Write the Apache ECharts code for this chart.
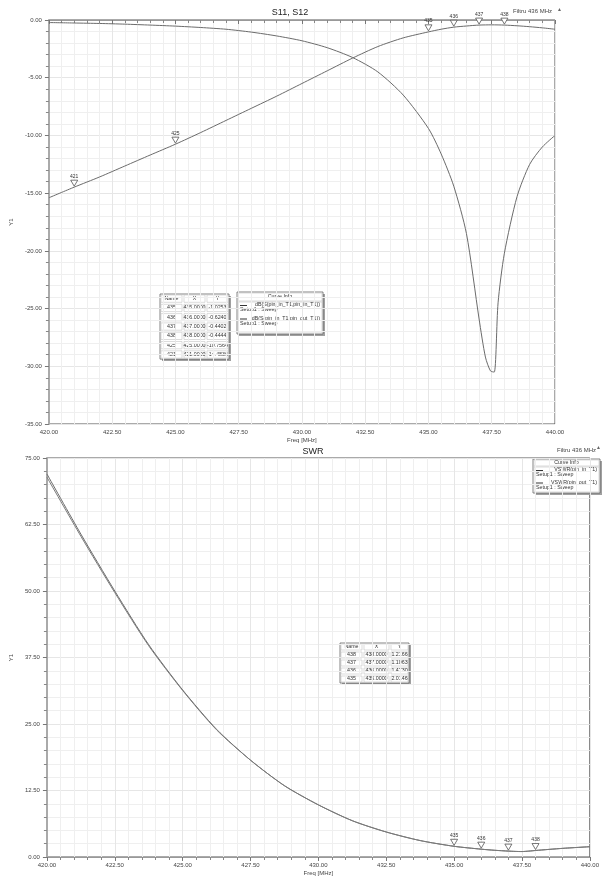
<!DOCTYPE html>
<html><head><meta charset="utf-8">
<script src="https://cdn.jsdelivr.net/npm/echarts@6/dist/echarts.min.js"></script>
<style>html,body{margin:0;padding:0;background:#fff}#c{width:602px;height:878px}</style>
</head><body><div id="c"></div>
<script>
// ---- data ----
const s11Freq = [420,421,422,423,424,425,426,427,428,429,430,431,432,433,434,435,435.5,436,436.5,437,437.25,437.45,437.6,437.75,438,438.5,439,439.5,440];
const s11Db   = [-0.22,-0.26,-0.3,-0.36,-0.44,-0.53,-0.65,-0.8,-1.05,-1.38,-1.8,-2.4,-3.25,-4.5,-6.5,-9.4,-11.6,-14.4,-18.5,-25.9,-29.2,-30.4,-30.5,-24.5,-20.2,-15.3,-12.5,-11.0,-10.0];
const s12Freq = [420,421,422,423,424,425,426,427,428,429,430,431,432,433,434,435,435.5,436,436.5,437,437.5,438,438.5,439,439.5,440];
const s12Db   = [-15.4,-14.48,-13.6,-12.65,-11.7,-10.76,-9.75,-8.7,-7.65,-6.6,-5.5,-4.4,-3.3,-2.3,-1.55,-1.03,-0.8,-0.62,-0.52,-0.44,-0.42,-0.44,-0.5,-0.58,-0.68,-0.8];
const swrFreq = [420,421.25,422.5,423.75,425,426.25,427.5,428.75,430,431.25,432.5,433.75,435,436,436.5,437,437.25,437.5,437.75,438,439,440];
const swrIn   = [72,60.7,50,39.9,31.4,24,18.2,13.4,9.8,6.82,4.7,3.09,2.01,1.47,1.26,1.11,1.05,1.02,1.1,1.22,1.62,1.93];
const swrOut  = [71.4,60.3,49.7,39.7,31.3,23.9,18.2,13.4,9.8,6.82,4.7,3.09,2.01,1.47,1.26,1.11,1.05,1.03,1.11,1.23,1.63,1.94];
const s12MarkNames = ['435','436','437','438','425','421'];
const s12MarkX = [435,436,437,438,425,421];
const s12MarkY = [-1.0253,-0.6240,-0.4402,-0.4444,-10.7564,-14.4836];
const swrMarkNames = ['438','437','436','435'];
const swrMarkX = [438,437,436,435];
const swrMarkY = [1.2166,1.1063,1.4730,2.0146];
const topCurves = ['dB(S(pin_in_T1,pin_in_T1))','dB(S(pin_in_T1,pin_out_T1))'];
const botCurves = ['VSWR(pin_in_T1)','VSWR(pin_out_T1)'];
const xTicks = [420,440,2.5];
const topY = [-35,0,5];
const botY = [0,75,12.5];

// ---- chart ----
const pairs = (a,b)=>a.map((v,i)=>[v,b[i]]);
const lineCol = '#6b6b6b';
const FONT = 'Liberation Sans, Arial, sans-serif';

function xAx(gi){
  return {gridIndex:gi,type:'value',min:xTicks[0],max:xTicks[1],interval:xTicks[2],
    name:'Freq [MHz]',nameLocation:'middle',nameGap:13,
    nameTextStyle:{fontSize:6,color:'#444',fontFamily:FONT},
    axisLine:{show:true,lineStyle:{color:'#999',width:1}},
    axisTick:{show:true,length:4,lineStyle:{color:'#777'}},
    minorTick:{show:true,splitNumber:5,length:3,lineStyle:{color:'#888'}},
    axisLabel:{fontSize:6,color:'#444',fontFamily:FONT,margin:5,formatter:v=>v.toFixed(2)},
    splitLine:{show:true,lineStyle:{color:'#e6e6e6',width:1}},
    minorSplitLine:{show:true,lineStyle:{color:'#efefef',width:1}}};
}
function yAx(gi,r){
  return {gridIndex:gi,type:'value',min:r[0],max:r[1],interval:r[2],
    name:'Y1',nameLocation:'middle',nameGap:31,nameRotate:90,
    nameTextStyle:{fontSize:6,color:'#444',fontFamily:FONT},
    axisLine:{show:true,lineStyle:{color:'#aaa',width:2}},
    axisTick:{show:true,length:4,lineStyle:{color:'#777'}},
    minorTick:{show:true,splitNumber:5,length:3,lineStyle:{color:'#888'}},
    axisLabel:{fontSize:6,color:'#444',fontFamily:FONT,margin:7,formatter:v=>v.toFixed(2)},
    splitLine:{show:true,lineStyle:{color:'#e6e6e6',width:1}},
    minorSplitLine:{show:true,lineStyle:{color:'#efefef',width:1}}};
}
function marks(names,xs,ys){
  return {symbol:'triangle',symbolRotate:180,symbolSize:[7,6],symbolOffset:[0,-4],
    itemStyle:{color:'#fff',borderColor:'#555',borderWidth:0.8},
    label:{show:true,position:'top',distance:1,fontSize:5,color:'#333',fontFamily:FONT,formatter:p=>p.name},
    data:names.map((n,i)=>({name:n,coord:[xs[i],ys[i]]}))};
}

// tables (graphic)
function table(x,y,colW,rowH,rows){
  const els=[];
  const W=colW.reduce((a,b)=>a+b,0), H=rowH*rows.length;
  els.push({type:'rect',shape:{x:x+2,y:y+2,width:W,height:H},style:{fill:'#a0a0a0'},silent:true});
  els.push({type:'rect',shape:{x:x,y:y,width:W,height:H},style:{fill:'#fff',stroke:'#666',lineWidth:0.8},silent:true});
  rows.forEach((r,ri)=>{
    let cx=x;
    r.forEach((t,ci)=>{
      els.push({type:'rect',shape:{x:cx+1,y:y+ri*rowH+1,width:colW[ci]-2,height:rowH-2},style:{fill:'none',stroke:'#c4c4c4',lineWidth:0.6},silent:true});
      els.push({type:'text',x:cx+colW[ci]/2,y:y+ri*rowH+rowH/2,style:{text:t,fontSize:5.3,fill:'#333',fontFamily:FONT,align:'center',verticalAlign:'middle'},silent:true});
      cx+=colW[ci];
    });
  });
  return els;
}
function curveInfo(x,y,w,h,hdr,step,names){
  const els=[];
  els.push({type:'rect',shape:{x:x+2,y:y+2,width:w,height:h},style:{fill:'#a0a0a0'},silent:true});
  els.push({type:'rect',shape:{x:x,y:y,width:w,height:h},style:{fill:'#fff',stroke:'#666',lineWidth:0.8},silent:true});
  els.push({type:'rect',shape:{x:x+1,y:y+1,width:w-2,height:hdr-1},style:{fill:'none',stroke:'#c4c4c4',lineWidth:0.6},silent:true});
  els.push({type:'text',x:x+w/2,y:y+hdr/2+0.5,style:{text:'Curve Info',fontSize:5.3,fill:'#333',fontFamily:FONT,align:'center',verticalAlign:'middle'},silent:true});
  els.push({type:'rect',shape:{x:x+1,y:y+hdr+1,width:w-2,height:h-hdr-2},style:{fill:'none',stroke:'#c4c4c4',lineWidth:0.6},silent:true});
  names.forEach((n,i)=>{
    const yy=y+hdr+i*step;
    els.push({type:'line',shape:{x1:x+3,y1:yy+4.5,x2:x+10,y2:yy+4.5},style:{stroke:'#333',lineWidth:1},silent:true});
    els.push({type:'text',x:x+w-3,y:yy+4,style:{text:n,fontSize:5.3,fill:'#333',fontFamily:FONT,align:'right',verticalAlign:'middle'},silent:true});
    els.push({type:'text',x:x+3,y:yy+9,style:{text:'Setup1 : Sweep',fontSize:5.3,fill:'#333',fontFamily:FONT,align:'left',verticalAlign:'middle'},silent:true});
  });
  return els;
}
const topRows=[['Name','X','Y']].concat(s12MarkNames.map((n,i)=>[n,s12MarkX[i].toFixed(4),s12MarkY[i].toFixed(4)]));
const botRows=[['Name','X','Y']].concat(swrMarkNames.map((n,i)=>[n,swrMarkX[i].toFixed(4),swrMarkY[i].toFixed(4)]));

const graphic=[].concat(
  table(160,294,[23,23,23],9.3,topRows),
  curveInfo(237,292,86,42,9,13.5,topCurves),
  table(340,643,[23,27,19],8,botRows),
  curveInfo(533,459,67,34,7,12.5,botCurves),
  [{type:'text',x:513,y:11,style:{text:'Filtru 436 MHz',fontSize:6,fill:'#444',fontFamily:FONT,verticalAlign:'middle'}},
   {type:'text',x:557,y:10,style:{text:'▲',fontSize:5,fill:'#666',fontFamily:FONT,verticalAlign:'middle'}},
   {type:'text',x:557,y:450,style:{text:'Filtru 436 MHz',fontSize:6,fill:'#444',fontFamily:FONT,verticalAlign:'middle'}},
   {type:'text',x:596,y:448,style:{text:'▲',fontSize:5,fill:'#666',fontFamily:FONT,verticalAlign:'middle'}}]
);

const chart=echarts.init(document.getElementById('c'),null,{renderer:'canvas'});
chart.setOption({
  animation:false,
  backgroundColor:'#fff',
  title:[
    {text:'S11, S12',left:285,top:3,textAlign:'center',textStyle:{fontSize:9,fontWeight:'normal',color:'#222',fontFamily:FONT}},
    {text:'SWR',left:308,top:442,textAlign:'center',textStyle:{fontSize:9,fontWeight:'normal',color:'#222',fontFamily:FONT}}
  ],
  grid:[
    {left:40,top:20,width:515,height:404,show:true,borderColor:'#555',borderWidth:1,backgroundColor:'#fff'},
    {left:40,top:458,width:555,height:399,show:true,borderColor:'#555',borderWidth:1,backgroundColor:'#fff'}
  ],
  xAxis:[xAx(0),xAx(1)],
  yAxis:[yAx(0,topY),yAx(1,botY)],
  graphic:graphic,
  series:[
    {name:topCurves[0],type:'line',xAxisIndex:0,yAxisIndex:0,data:pairs(s11Freq,s11Db),smooth:0.25,showSymbol:false,lineStyle:{color:lineCol,width:1}},
    {name:topCurves[1],type:'line',xAxisIndex:0,yAxisIndex:0,data:pairs(s12Freq,s12Db),smooth:0.25,showSymbol:false,lineStyle:{color:lineCol,width:1},markPoint:marks(s12MarkNames,s12MarkX,s12MarkY)},
    {name:botCurves[0],type:'line',xAxisIndex:1,yAxisIndex:1,data:pairs(swrFreq,swrIn),smooth:0.25,showSymbol:false,lineStyle:{color:lineCol,width:1},markPoint:marks(swrMarkNames,swrMarkX,swrMarkY)},
    {name:botCurves[1],type:'line',xAxisIndex:1,yAxisIndex:1,data:pairs(swrFreq,swrOut),smooth:0.25,showSymbol:false,lineStyle:{color:'#7a7a7a',width:1}}
  ]
});
</script></body></html>
